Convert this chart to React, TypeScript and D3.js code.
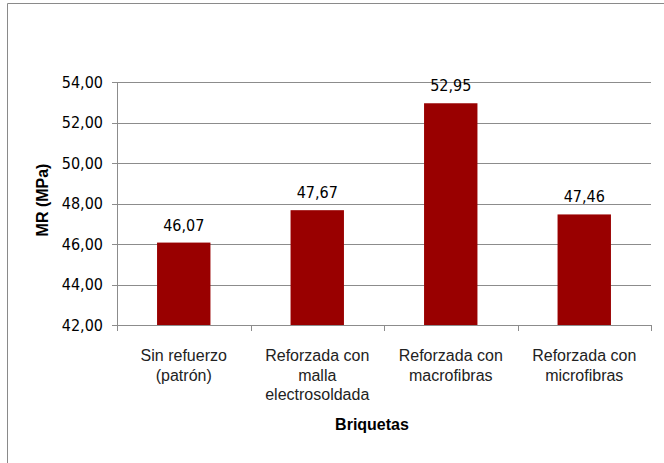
import { scaleBand, scaleLinear, range } from "d3"

const categories = [
    ["Sin refuerzo", "(patrón)"],
    ["Reforzada con", "malla", "electrosoldada"],
    ["Reforzada con", "macrofibras"],
    ["Reforzada con", "microfibras"],
]
const values = [46.07, 47.67, 52.95, 47.46]
const yTicks = [42, 44, 46, 48, 50, 52, 54]

const fmt = (v: number) => v.toFixed(2).replace(".", ",")

const App = () => {
    const width = 664
    const height = 463
    const left = 117
    const right = 651
    const top = 82
    const bottom = 325
    const grid = "#8c8c8c"
    const numFont = "'DejaVu Sans Condensed', 'Liberation Sans Narrow', sans-serif"
    const labelFont = "'Liberation Sans', Arial, sans-serif"

    const x = scaleBand<number>()
        .domain(range(values.length))
        .range([left, right])
        .paddingInner(0.6)
        .paddingOuter(0.3)
    const step = x.step()

    const y = scaleLinear().domain([42, 54]).range([bottom, top])

    return (
        <svg width={width} height={height} style={{ position: "absolute", left: 0, top: 0, background: "#fff" }}>
            <line x1={7.5} y1={3.5} x2={width} y2={3.5} stroke="#8a8a8a" />
            <line x1={7.5} y1={3.5} x2={7.5} y2={height} stroke="#8a8a8a" />

            {yTicks.map(t => (
                <g key={t}>
                    <line x1={left - 5} x2={right} y1={Math.round(y(t)) + 0.5} y2={Math.round(y(t)) + 0.5} stroke={grid} />
                    <text x={103} y={y(t)} dy="0.36em" textAnchor="end" fontFamily={numFont} fontSize={16} fill="#000">
                        {fmt(t)}
                    </text>
                </g>
            ))}

            <line x1={left + 0.5} x2={left + 0.5} y1={top} y2={bottom} stroke={grid} />

            {values.map((v, i) => (
                <g key={i}>
                    <rect x={x(i)} y={y(v)} width={x.bandwidth()} height={y(42) - y(v)} fill="#990000" />
                    <text x={x(i)! + x.bandwidth() / 2} y={y(v) - 12} textAnchor="middle" fontFamily={numFont} fontSize={16} fill="#000">
                        {fmt(v)}
                    </text>
                </g>
            ))}

            <line x1={left} x2={right} y1={Math.round(bottom) + 0.5} y2={Math.round(bottom) + 0.5} stroke={grid} />
            {range(values.length + 1).map(i => (
                <line key={i} x1={Math.round(left + i * step) + 0.5} x2={Math.round(left + i * step) + 0.5} y1={bottom} y2={bottom + 6} stroke={grid} />
            ))}

            {categories.map((lines, i) => (
                <text key={i} textAnchor="middle" fontFamily={labelFont} fontSize={16} fill="#222">
                    {lines.map((l, j) => (
                        <tspan key={j} x={x(i)! + x.bandwidth() / 2} y={361 + j * 19.5}>{l}</tspan>
                    ))}
                </text>
            ))}

            <text x={372} y={430} textAnchor="middle" fontFamily={labelFont} fontSize={16} fontWeight="bold" fill="#000">
                Briquetas
            </text>
            <text transform="translate(48,200) rotate(-90)" textAnchor="middle" fontFamily={labelFont} fontSize={16} fontWeight="bold" fill="#000">
                MR (MPa)
            </text>
        </svg>
    )
}

export default App
